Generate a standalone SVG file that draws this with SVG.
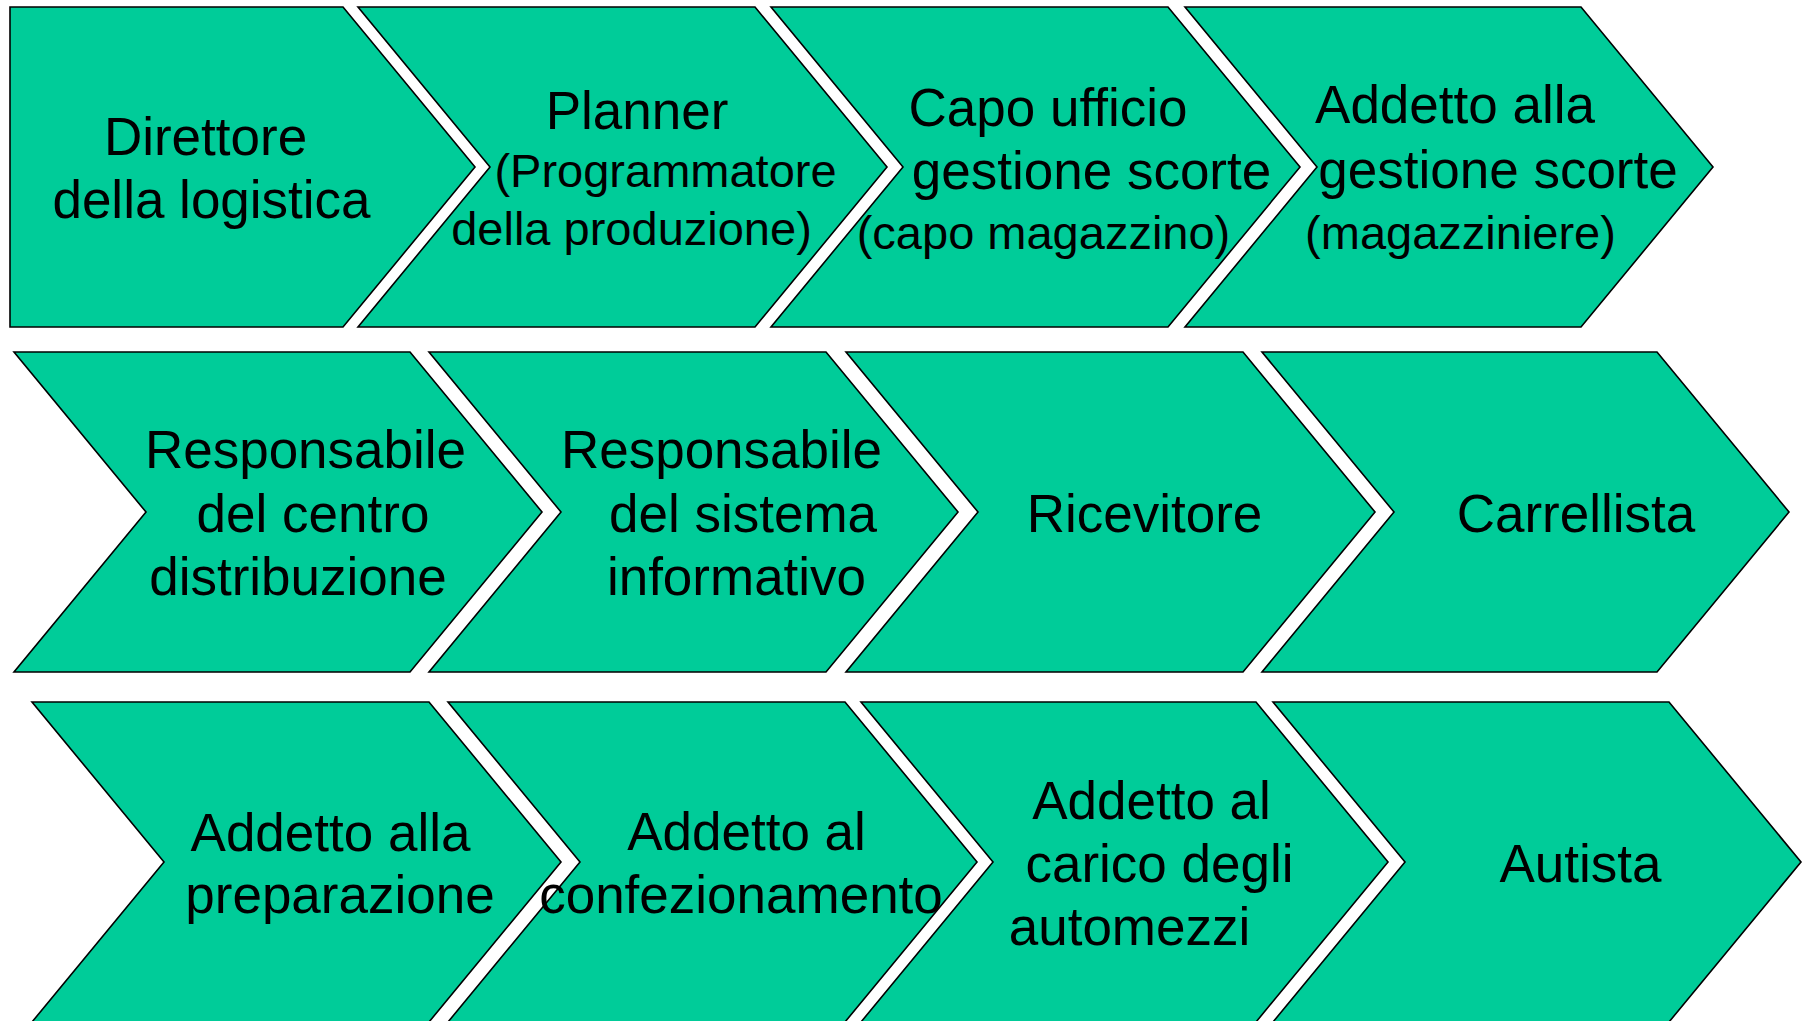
<svg xmlns="http://www.w3.org/2000/svg" width="1804" height="1021" viewBox="0 0 1804 1021">
<style>
.ch{fill:#00CC99;stroke:#000;stroke-width:1.6;stroke-linejoin:miter}
.t{font-family:"Liberation Sans",Arial,sans-serif;font-size:53px;fill:#000;text-anchor:middle}
.s{font-size:47px}
</style>
<rect width="1804" height="1021" fill="#fff"/>
<g id="connectors"></g>
<g id="n1"><path class="ch" d="M10,7 L343,7 L475,167 L343,327 L10,327 Z"/>
<text class="t" x="205.5" y="155">Direttore</text><text class="t" x="211.5" y="218">della logistica</text></g>
<g id="n2"><path class="ch" d="M358,7 L755,7 L887,167 L755,327 L358,327 L490,167 Z"/>
<text class="t" x="637" y="129">Planner</text><text class="t s" x="665.5" y="187">(Programmatore</text><text class="t s" x="631.5" y="245">della produzione)</text></g>
<g id="n3"><path class="ch" d="M771,7 L1168,7 L1300,167 L1168,327 L771,327 L903,167 Z"/>
<text class="t" x="1048" y="126">Capo ufficio</text><text class="t" x="1091.5" y="189">gestione scorte</text><text class="t s" x="1043.5" y="249">(capo magazzino)</text></g>
<g id="n4"><path class="ch" d="M1185,7 L1581,7 L1713,167 L1581,327 L1185,327 L1317,167 Z"/>
<text class="t" x="1455" y="123">Addetto alla</text><text class="t" x="1498" y="188">gestione scorte</text><text class="t s" x="1460.5" y="249">(magazziniere)</text></g>

<g id="n5"><path class="ch" d="M14,352 L410,352 L542,512 L410,672 L14,672 L146,512 Z"/>
<text class="t" x="305.5" y="468">Responsabile</text><text class="t" x="313" y="532">del centro</text><text class="t" x="298" y="595">distribuzione</text></g>
<g id="n6"><path class="ch" d="M429,352 L826,352 L958,512 L826,672 L429,672 L561,512 Z"/>
<text class="t" x="721.5" y="468">Responsabile</text><text class="t" x="743" y="532">del sistema</text><text class="t" x="736.5" y="595">informativo</text></g>
<g id="n7"><path class="ch" d="M846,352 L1243,352 L1375,512 L1243,672 L846,672 L978,512 Z"/>
<text class="t" x="1144.5" y="532">Ricevitore</text></g>
<g id="n8"><path class="ch" d="M1262,352 L1657,352 L1789,512 L1657,672 L1262,672 L1394,512 Z"/>
<text class="t" x="1576" y="532">Carrellista</text></g>

<g id="n9"><path class="ch" d="M32,702 L429,702 L561,862 L429,1022 L32,1022 L164,862 Z"/>
<text class="t" x="330.5" y="851">Addetto alla</text><text class="t" x="340" y="913">preparazione</text></g>
<g id="n10"><path class="ch" d="M448,702 L845,702 L977,862 L845,1022 L448,1022 L580,862 Z"/>
<text class="t" x="746.5" y="850">Addetto al</text><text class="t" x="741" y="913">confezionamento</text></g>
<g id="n11"><path class="ch" d="M861,702 L1256,702 L1388,862 L1256,1022 L861,1022 L993,862 Z"/>
<text class="t" x="1151.5" y="819">Addetto al</text><text class="t" x="1159.5" y="882">carico degli</text><text class="t" x="1129.5" y="945">automezzi</text></g>
<g id="n12"><path class="ch" d="M1273,702 L1669,702 L1801,862 L1669,1022 L1273,1022 L1405,862 Z"/>
<text class="t" x="1580.5" y="882">Autista</text></g>
</svg>
